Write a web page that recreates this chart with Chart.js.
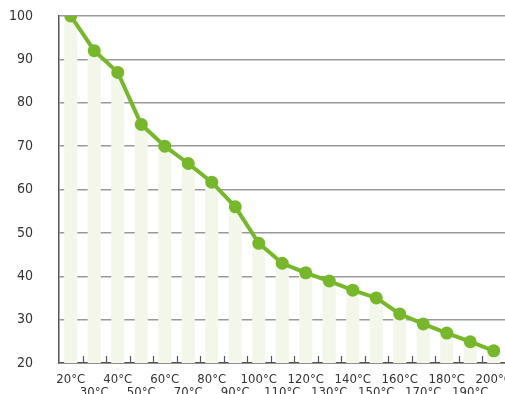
<!DOCTYPE html>
<html>
<head>
<meta charset="utf-8">
<script src="https://cdn.jsdelivr.net/npm/chart.js@4"></script>
<style>
  html, body { margin: 0; padding: 0; background: #fff; overflow: hidden; }
  #wrap { width: 512px; height: 400px; }
</style>
</head>
<body>
<div id="wrap"><canvas id="myChart"></canvas></div>
<script>
const temps = ['20°C','30°C','40°C','50°C','60°C','70°C','80°C','90°C','100°C','110°C',
   '120°C','130°C','140°C','150°C','160°C','170°C','180°C','190°C','200°C'];
const values = [100, 92, 87, 75, 70, 66, 61.7, 56, 47.6, 43, 40.8, 38.9, 36.8, 35, 31.3, 29, 26.9, 24.9, 22.8];
const yTicks = [20, 30, 40, 50, 60, 70, 80, 90, 100];

const green = 'rgb(118,184,42)';
const font = '"DejaVu Sans", sans-serif';

// odd labels go on a second line, staggered
const labels = temps.map((t, i) => i % 2 ? ['', t] : [t]);

// little upward ticks between categories on the x axis
const upTicks = {
   id: 'upTicks',
   afterDatasetsDraw(chart) {
      const x = chart.scales.x;
      const ctx = chart.ctx;
      ctx.save();
      ctx.strokeStyle = '#555';
      ctx.lineWidth = 1.2;
      for (let i = 1; i < temps.length; i++) {
         const px = (x.getPixelForValue(i - 1) + x.getPixelForValue(i)) / 2;
         ctx.beginPath();
         ctx.moveTo(Math.round(px) + 0.5, x.top);
         ctx.lineTo(Math.round(px) + 0.5, x.top - 7);
         ctx.stroke();
      }
      ctx.restore();
   }
};

const myChart = new Chart(document.getElementById('myChart'), {
   type: 'bar',
   data: {
      labels: labels,
      datasets: [{
         type: 'line',
         data: values,
         borderColor: green,
         backgroundColor: green,
         borderWidth: 4,
         pointRadius: 6.5,
         pointHoverRadius: 6.5,
         pointBorderWidth: 0,
         tension: 0,
         order: 0
      }, {
         type: 'bar',
         data: values,
         backgroundColor: '#f3f7ea',
         barPercentage: 0.56,
         categoryPercentage: 1,
         order: 1
      }]
   },
   options: {
      responsive: true,
      maintainAspectRatio: false,
      animation: false,
      layout: { padding: { top: 16, right: 0, left: 0, bottom: 0 } },
      plugins: { legend: { display: false }, tooltip: { enabled: false } },
      scales: {
         x: {
            afterFit: s => { s.height = 37; s.paddingLeft = 0; s.paddingRight = 0; },
            grid: { display: true, drawOnChartArea: false, drawTicks: false },
            border: { color: '#555', width: 1.5 },
            ticks: {
               autoSkip: false, maxRotation: 0, padding: 10,
               color: '#333', font: { family: font, weight: 'condensed', size: 13, lineHeight: 1 }
            }
         },
         y: {
            min: 20, max: 100,
            afterFit: s => { s.width = 59; s.paddingTop = 0; s.paddingBottom = 0; },
            afterBuildTicks: s => { s.ticks = yTicks.map(v => ({ value: v })); },
            grid: { color: '#999', lineWidth: 1.5, drawTicks: false },
            border: { color: '#555', width: 1.5 },
            ticks: { padding: 26, color: '#333', font: { family: font, weight: 'condensed', size: 14 } }
         }
      }
   },
   plugins: [upTicks]
});
</script>
</body>
</html>
